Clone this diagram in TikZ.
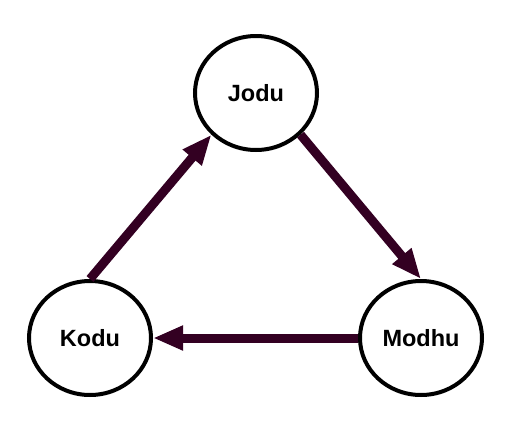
\documentclass[tikz,border=0pt]{standalone}
\usepackage{xcolor}
\usepackage{fontspec}
\setmainfont{Liberation Sans}
\usepackage{tikz}
\usetikzlibrary{shapes.geometric,arrows.meta}
\definecolor{ciruela}{HTML}{330022}

\tikzset{
	persona/.style={draw=black, fill=white, ellipse, line width=4pt, minimum width=122pt, minimum height=114pt, inner sep=0pt, font=\fontsize{23.5}{27}\selectfont\bfseries},
	flecha/.style={draw=ciruela, line width=9pt, -{Triangle[length=30pt,width=23pt]}}
}

\begin{document}
\begin{tikzpicture}[x=1pt,y=-1pt]
	% marco
	\useasboundingbox (0,0) rectangle (523,421);
	% nodos
	\node[persona] (jodu) at (256,93) {Jodu};
	\node[persona] (kodu) at (90,338) {Kodu};
	\node[persona] (modhu) at (421,338) {Modhu};
	% flechas:
	\draw[flecha] (kodu.north) -- (jodu.south west);
	\draw[flecha] (jodu.south east) -- (modhu.north);
	\draw[flecha] (modhu.west) -- (kodu.east);
\end{tikzpicture}
\end{document}
